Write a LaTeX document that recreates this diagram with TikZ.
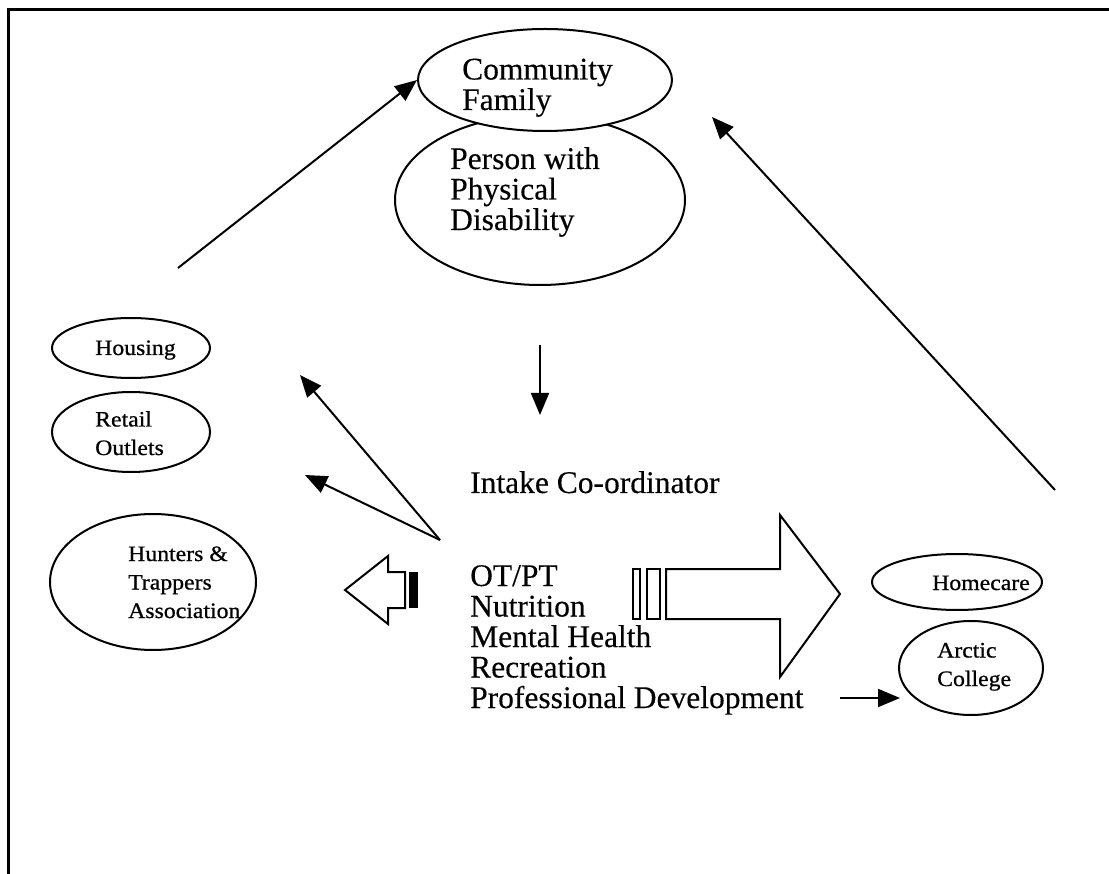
\documentclass[tikz,border=0pt]{standalone}
\usepackage{fontspec}
\setmainfont{Liberation Serif}[FakeBold=0.3]
\newfontfamily\ovalfont{Liberation Serif}[FakeStretch=1.08,FakeBold=0.7]
\usetikzlibrary{shapes.geometric,arrows.meta}

\begin{document}
\begin{tikzpicture}[x=1pt,y=-1pt,
  oval/.style={draw,ellipse,line width=2pt,inner sep=0pt,fill=white},
  big/.style={font=\fontsize{31.5}{30.5}\selectfont,align=left,inner sep=0pt,anchor=base west},
  small/.style={font=\ovalfont\fontsize{22}{28.5}\selectfont,align=left,inner sep=0pt,anchor=base west},
  link/.style={line width=2pt,-{Triangle[length=22pt,width=18pt]}},
  block/.style={draw,line width=2pt,line join=miter,fill=white}]
\useasboundingbox (0,0) rectangle (1109,874);

% open frame: top and left sides
\draw[line width=3pt] (1109,9.5) -- (8.5,9.5) -- (8.5,874);

% centre pair of ovals
\node[oval,minimum width=290pt,minimum height=170pt] (person) at (540,200) {};
\node[oval,minimum width=254pt,minimum height=102pt] (comm) at (545,80) {};
\node[big] (commtxt) at (462,110) {Community\\Family};
\node[big] (persontxt) at (450,230) {Person with\\Physical\\Disability};

% left-hand ovals
\node[oval,minimum width=158pt,minimum height=60pt] (housing) at (131,348) {};
\node[small] (housingtxt) at (95,355) {Housing};
\node[oval,minimum width=158pt,minimum height=80pt] (retail) at (131,432) {};
\node[small] (retailtxt) at (95,455) {Retail\\Outlets};
\node[oval,minimum width=206pt,minimum height=136pt] (hunters) at (153,582) {};
\node[small] (hunterstxt) at (128,618) {Hunters \&\\Trappers\\Association};

% right-hand ovals
\node[oval,minimum width=170pt,minimum height=56pt] (homecare) at (957,582) {};
\node[small] (homecaretxt) at (932,590) {Homecare};
\node[oval,minimum width=144pt,minimum height=94pt] (arctic) at (971,668) {};
\node[small] (arctictxt) at (937,686) {Arctic\\College};

% middle texts
\node[big] (intake) at (470,493) {Intake Co-ordinator};
\node[big] (services) at (470,708) {OT/PT\\Nutrition\\Mental Health\\Recreation\\Professional Development};

% block arrow to the left
\draw[block] (345,590) -- (388,556) -- (388,572) -- (405,572) -- (405,608) -- (388,608) -- (388,624) -- cycle;
\fill (409,572) rectangle (418,608);

% striped block arrow to the right
\draw[line width=2pt] (633,569) rectangle (640,619);
\draw[line width=2pt] (647,569) rectangle (660,619);
\draw[block] (666,569) -- (780,569) -- (780,515) -- (840,594) -- (780,677) -- (780,619) -- (666,619) -- cycle;

% connector end points
\coordinate (c1) at (178,268);
\coordinate (c2) at (1055,490);
\coordinate (c2e) at (712,117);
\coordinate (d1) at (540,345);
\coordinate (d2) at (540,415);
\coordinate (fan) at (440,540);
\coordinate (fanh) at (300,375);
\coordinate (fanr) at (305,475);
\coordinate (pd) at (840,698);
\coordinate (pde) at (900,698);

\draw[link] (c1) -- (comm.west);
\draw[link] (c2) -- (c2e);
\draw[link] (d1) -- (d2);
\draw[link] (fan) -- (fanh);
\draw[link] (fan) -- (fanr);
\draw[link] (pd) -- (pde);
\end{tikzpicture}
\end{document}
